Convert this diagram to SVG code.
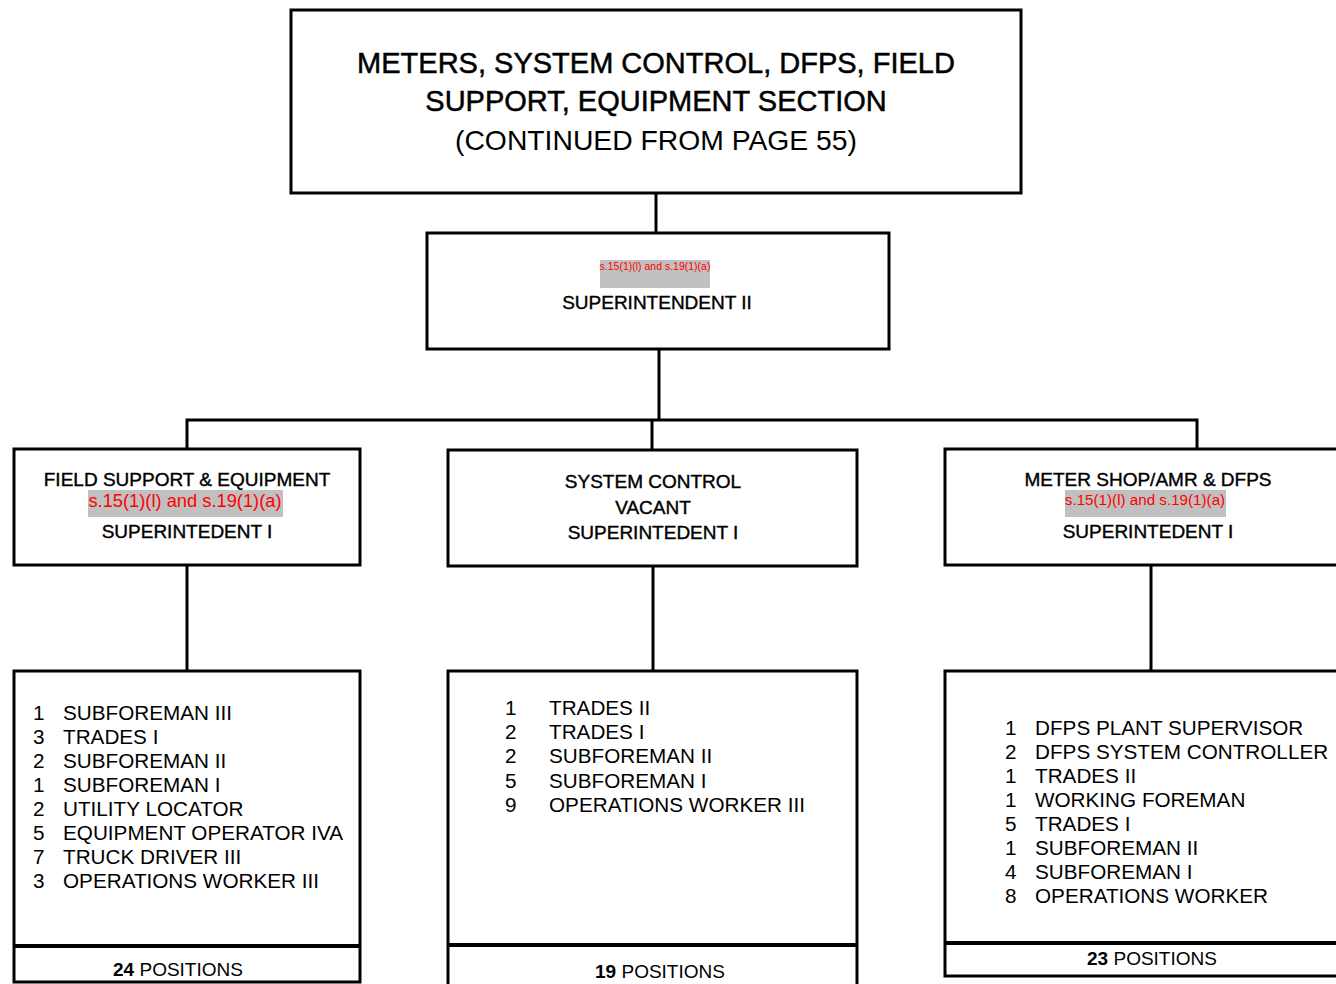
<svg xmlns="http://www.w3.org/2000/svg" width="1336" height="984" viewBox="0 0 1336 984">
<style>
.box{fill:#fff;stroke:#000;stroke-width:3}
.ln{stroke:#000;stroke-width:3;fill:none}
.div{stroke:#000;stroke-width:4}
text{font-family:"Liberation Sans",Arial,sans-serif;fill:#000}
.title{font-size:29px;text-anchor:middle;stroke:#000;stroke-width:0.5}
.title3{font-size:28.3px;text-anchor:middle}
.hd{font-size:19px;text-anchor:middle;stroke:#000;stroke-width:0.4}
.red{fill:#ff0000;text-anchor:middle}
.grey{fill:#c0c0c0}
.li{font-size:20.7px}
.pos{font-size:19px;text-anchor:middle}
</style>
<rect width="1336" height="984" fill="#fff"/>
<g id="connectors">
<path class="ln" d="M656 193V233"/>
<path class="ln" d="M659 349V420"/>
<path class="ln" d="M187 449V420H1197V449"/>
<path class="ln" d="M652 420V450"/>
<path class="ln" d="M187 565V671"/>
<path class="ln" d="M653 566V671"/>
<path class="ln" d="M1151 565V671"/>
</g>
<g id="title">
<rect class="box" x="291" y="10" width="730" height="183"/>
<text class="title" x="656" y="73">METERS, SYSTEM CONTROL, DFPS, FIELD</text>
<text class="title" x="656" y="111">SUPPORT, EQUIPMENT SECTION</text>
<text class="title3" x="656" y="150">(CONTINUED FROM PAGE 55)</text>
</g>
<g id="superintendent2">
<rect class="box" x="427" y="233" width="462" height="116"/>
<rect class="grey" x="600" y="260" width="110" height="28"/>
<text class="red" x="655" y="270" font-size="10.5">s.15(1)(l) and s.19(1)(a)</text>
<text class="hd" x="657" y="309">SUPERINTENDENT II</text>
</g>
<g id="field-support">
<rect class="box" x="14" y="449" width="346" height="116"/>
<text class="hd" x="187" y="486">FIELD SUPPORT &amp; EQUIPMENT</text>
<rect class="grey" x="88" y="490" width="195" height="27"/>
<text class="red" x="185" y="507" font-size="18.3">s.15(1)(l) and s.19(1)(a)</text>
<text class="hd" x="187" y="538">SUPERINTEDENT I</text>
</g>
<g id="system-control">
<rect class="box" x="448" y="450" width="409" height="116"/>
<text class="hd" x="653" y="488">SYSTEM CONTROL</text>
<text class="hd" x="653" y="514">VACANT</text>
<text class="hd" x="653" y="539">SUPERINTEDENT I</text>
</g>
<g id="meter-shop">
<rect class="box" x="945" y="449" width="400" height="116"/>
<text class="hd" x="1148" y="486">METER SHOP/AMR &amp; DFPS</text>
<rect class="grey" x="1065" y="490" width="161" height="27"/>
<text class="red" x="1145" y="504.5" font-size="15.2">s.15(1)(l) and s.19(1)(a)</text>
<text class="hd" x="1148" y="538">SUPERINTEDENT I</text>
</g>
<g id="field-support-staff">
<rect class="box" x="14" y="671" width="346" height="311"/>
<path class="div" d="M14 946H360"/>
<g class="li">
<text x="33" y="720">1</text><text x="63" y="720">SUBFOREMAN III</text>
<text x="33" y="744">3</text><text x="63" y="744">TRADES I</text>
<text x="33" y="768">2</text><text x="63" y="768">SUBFOREMAN II</text>
<text x="33" y="792">1</text><text x="63" y="792">SUBFOREMAN I</text>
<text x="33" y="816">2</text><text x="63" y="816">UTILITY LOCATOR</text>
<text x="33" y="840">5</text><text x="63" y="840">EQUIPMENT OPERATOR IVA</text>
<text x="33" y="864">7</text><text x="63" y="864">TRUCK DRIVER III</text>
<text x="33" y="888">3</text><text x="63" y="888">OPERATIONS WORKER III</text>
</g>
<text class="pos" x="178" y="976"><tspan font-weight="bold">24</tspan> POSITIONS</text>
</g>
<g id="system-control-staff">
<rect class="box" x="448" y="671" width="409" height="320"/>
<path class="div" d="M448 945H857"/>
<g class="li">
<text x="505" y="715">1</text><text x="549" y="715">TRADES II</text>
<text x="505" y="739">2</text><text x="549" y="739">TRADES I</text>
<text x="505" y="763">2</text><text x="549" y="763">SUBFOREMAN II</text>
<text x="505" y="788">5</text><text x="549" y="788">SUBFOREMAN I</text>
<text x="505" y="812">9</text><text x="549" y="812">OPERATIONS WORKER III</text>
</g>
<text class="pos" x="660" y="978"><tspan font-weight="bold">19</tspan> POSITIONS</text>
</g>
<g id="meter-shop-staff">
<rect class="box" x="945" y="671" width="400" height="305"/>
<path class="div" d="M945 943H1345"/>
<g class="li">
<text x="1005" y="735">1</text><text x="1035" y="735">DFPS PLANT SUPERVISOR</text>
<text x="1005" y="759">2</text><text x="1035" y="759">DFPS SYSTEM CONTROLLER</text>
<text x="1005" y="783">1</text><text x="1035" y="783">TRADES II</text>
<text x="1005" y="807">1</text><text x="1035" y="807">WORKING FOREMAN</text>
<text x="1005" y="831">5</text><text x="1035" y="831">TRADES I</text>
<text x="1005" y="855">1</text><text x="1035" y="855">SUBFOREMAN II</text>
<text x="1005" y="879">4</text><text x="1035" y="879">SUBFOREMAN I</text>
<text x="1005" y="903">8</text><text x="1035" y="903">OPERATIONS WORKER</text>
</g>
<text class="pos" x="1152" y="965"><tspan font-weight="bold">23</tspan> POSITIONS</text>
</g>
</svg>
